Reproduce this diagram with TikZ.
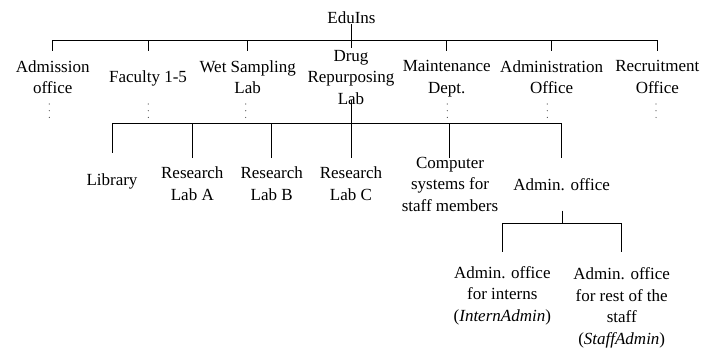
\documentclass[tikz,border=0pt]{standalone}
\usepackage{fontspec}
\setmainfont{Liberation Serif}
\begin{document}
\begin{tikzpicture}[x=1pt,y=-1pt,
  unit/.style={align=center,inner sep=0pt,font=\fontsize{17}{21.5}\selectfont},
  link/.style={line width=1pt},
  more/.style={fill=black!70,draw=none}]
\useasboundingbox (0,0) rectangle (703,350);

% top level
\node[unit] (root) at (351.5,18) {EduIns};

% first level units
\node[unit] (adm)  at (52.7,77)  {Admission\\office};
\node[unit] (fac)  at (148,78)   {Faculty 1-5};
\node[unit] (wet)  at (247.7,77) {Wet Sampling\\Lab};
\node[unit] (drug) at (351,77.4) {Drug\\Repurposing\\Lab};
\node[unit] (mnt)  at (446.7,78.6) {Maintenance\\Dept.};
\node[unit] (adms) at (551.7,77) {Administration\\Office};
\node[unit] (rec)  at (657.3,77) {Recruitment\\Office};

% units inside the drug repurposing lab
\node[unit] (lib)  at (112,181)    {Library};
\node[unit] (rla)  at (192.3,183.5) {Research\\Lab A};
\node[unit] (rlb)  at (271.7,183.5) {Research\\Lab B};
\node[unit] (rlc)  at (351,183.5)   {Research\\Lab C};
\node[unit] (comp) at (450,184)     {Computer\\systems for\\staff members};
\node[unit] (aoff) at (561.7,185)   {Admin. office};

% admin office split
\node[unit] (aint) at (502.3,295.5) {Admin. office\\for interns\\(\textit{InternAdmin})};
\node[unit] (astf) at (621.7,308)   {Admin. office\\for rest of the\\staff\\(\textit{StaffAdmin})};

% connector end points
\coordinate (j0) at (351,41);
\coordinate (t-adm)  at (52.7,51);
\coordinate (t-fac)  at (148,51);
\coordinate (t-wet)  at (247.7,51);
\coordinate (t-drug) at (351,48);
\coordinate (t-mnt)  at (446.7,51);
\coordinate (t-adms) at (551.7,51);
\coordinate (t-rec)  at (657.3,51);

\coordinate (b-drug) at (351,100);
\coordinate (j1) at (351,123.3);
\coordinate (t-lib)  at (112.3,152.7);
\coordinate (t-rla)  at (192.3,158);
\coordinate (t-rlb)  at (271.7,158);
\coordinate (t-rlc)  at (351,158);
\coordinate (t-comp) at (449.3,158);
\coordinate (t-aoff) at (561.7,158);

\coordinate (b-aoff) at (562,210.5);
\coordinate (j2) at (562,223.3);
\coordinate (t-aint) at (502.3,251.7);
\coordinate (t-astf) at (621.7,251.7);

% level 1 connectors
\draw[link] (root.south -| j0) -- (t-drug);
\draw[link] (t-adm) -- (t-adm |- j0) -- (t-rec |- j0) -- (t-rec);
\foreach \c in {fac,wet,mnt,adms}
  \draw[link] (t-\c) -- (t-\c |- j0);

% level 2 connectors
\draw[link] (b-drug) -- (t-rlc);
\draw[link] (t-lib) -- (t-lib |- j1) -- (t-aoff |- j1) -- (t-aoff);
\foreach \c in {rla,rlb,comp}
  \draw[link] (t-\c) -- (t-\c |- j1);

% level 3 connectors
\draw[link] (b-aoff) -- (j2);
\draw[link] (t-aint) -- (t-aint |- j2) -- (t-astf |- j2) -- (t-astf);

% continuation marks under the first level units
\foreach \x in {49.3,148.3,245.7,447.3,547.3,656}
  \foreach \y in {104,110.7,117.4}
    \fill[more] (\x,\y) circle (0.6);
\end{tikzpicture}
\end{document}
